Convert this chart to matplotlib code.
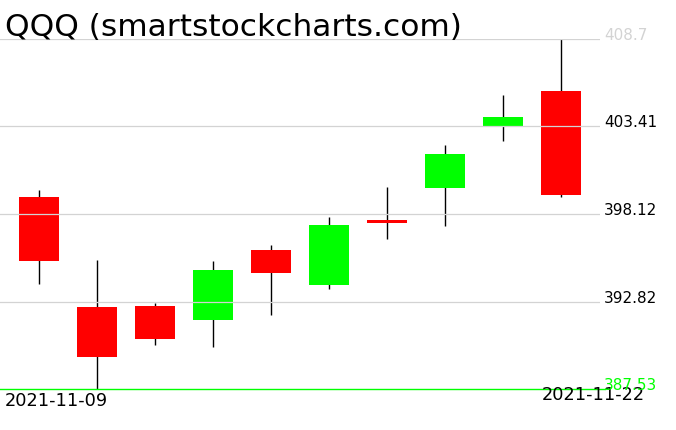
import matplotlib
matplotlib.use("Agg")
import matplotlib.pyplot as plt
from matplotlib.patches import Rectangle

title = "QQQ (smartstockcharts.com)"
dates = ["2021-11-09", "2021-11-10", "2021-11-11", "2021-11-12", "2021-11-15",
         "2021-11-16", "2021-11-17", "2021-11-18", "2021-11-19", "2021-11-22"]
opens  = [399.14, 392.49, 392.55, 391.72, 395.94, 393.84, 397.75, 399.71, 403.40, 405.55]
highs  = [399.57, 395.35, 392.73, 395.27, 396.24, 397.93, 399.75, 402.29, 405.31, 408.70]
lows   = [393.88, 387.53, 390.21, 390.09, 392.02, 393.60, 396.62, 397.41, 402.55, 399.16]
closes = [395.29, 389.48, 390.57, 394.73, 394.56, 397.45, 397.59, 401.74, 403.98, 399.28]
levels = [408.7, 403.41, 398.12, 392.82, 387.53]
level_labels = ["408.7", "403.41", "398.12", "392.82", "387.53"]

W, H = 676, 431
fig = plt.figure(figsize=(W / 100, H / 100), dpi=100)
fig.patch.set_facecolor("white")
ax_l, ax_r, ax_t, ax_b = 0, 600, 40, 390
ax = fig.add_axes([ax_l / W, (H - ax_b) / H, (ax_r - ax_l) / W, (ax_b - ax_t) / H])
ax.set_axis_off()
ymin, ymax = min(levels), max(levels)
ax.set_ylim(ymin, ymax)
step = 58.0
xmin = -39 / step
xmax = xmin + (ax_r - ax_l) / step
ax.set_xlim(xmin, xmax)
px_per_unit = (ax_b - ax_t) / (ymax - ymin)

body_w = 40 / step
for i, (o, h, l, c) in enumerate(zip(opens, highs, lows, closes)):
    col = "#00ff00" if c >= o else "#ff0000"
    ax.plot([i, i], [l, h], color="black", lw=1.0, zorder=1, solid_capstyle="butt")
    lo, hi = min(o, c), max(o, c)
    ax.add_patch(Rectangle((i - body_w / 2, lo), body_w, hi - lo, facecolor=col,
                           edgecolor="none", zorder=2))

label_colors = ["#d3d3d3", "black", "black", "black", "#00ff00"]
for lev, lab, lc in zip(levels, level_labels, label_colors):
    if lev == ymin:
        ax.plot([xmin, xmax + 5 / step], [lev, lev], color="#00ff00", lw=1.0, zorder=3,
                clip_on=False)
    else:
        ax.plot([xmin, xmax], [lev, lev], color="#d3d3d3", lw=0.9, zorder=3)
    ax.text(xmax + 4 / step, lev + 4.5 / px_per_unit, lab, color=lc, fontsize=11,
            ha="left", va="center", clip_on=False, zorder=4)

ax.text(xmin + 5 / step, ymin - 11 / px_per_unit, dates[0], fontsize=12.8,
        ha="left", va="center", clip_on=False)
ax.text(xmin + 542 / step, ymin - 5.5 / px_per_unit, dates[-1], fontsize=12.8,
        ha="left", va="center", clip_on=False)

fig.text(5 / W, 1 - 28 / H, title, fontsize=22.5, ha="left", va="center",
         color="black")

fig.savefig("out.png", dpi=100, facecolor="white")
